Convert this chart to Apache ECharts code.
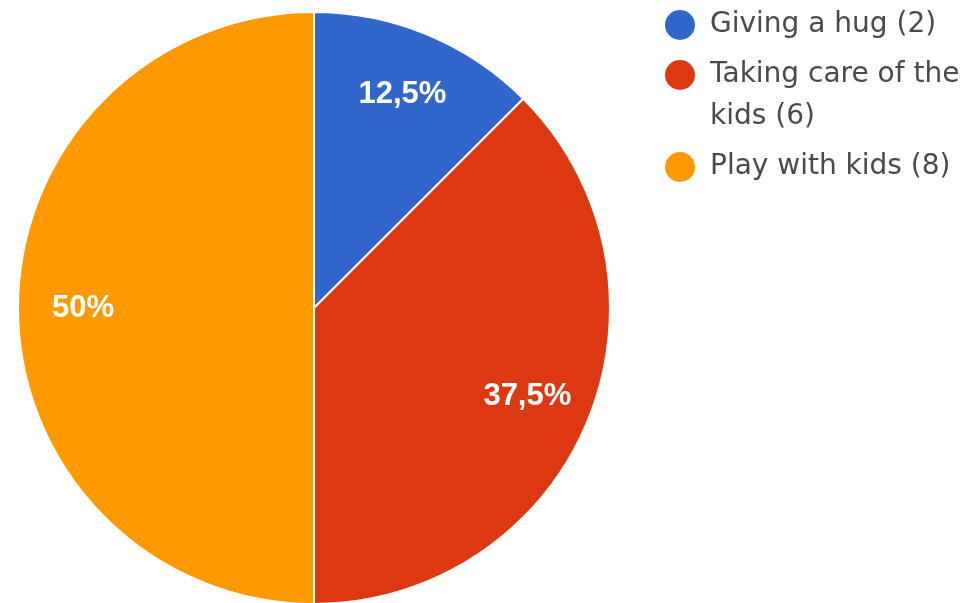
<!DOCTYPE html>
<html>
<head>
<meta charset="utf-8">
<script src="https://cdn.jsdelivr.net/npm/echarts@6/dist/echarts.min.js"></script>
<style>
  html, body { margin: 0; padding: 0; background: #fff; }
  #chart { width: 973px; height: 603px; }
</style>
</head>
<body>
<div id="chart"></div>
<script>
// Answers and their counts
const categories = ['Giving a hug', 'Taking care of the kids', 'Play with kids'];
const counts = [2, 6, 8];
const colors = ['#3366cc', '#dc3912', '#ff9900'];

const total = counts.reduce((a, b) => a + b, 0);

// Percent with a decimal comma, e.g. 12,5%
function pctLabel(v) {
  const p = Math.round(v / total * 1000) / 10;
  return String(p).replace('.', ',') + '%';
}

const pieCenter = [314, 308];
const pieRadius = 296;

const pieData = categories.map((name, i) => ({
  name: name,
  value: counts[i],
  itemStyle: { color: colors[i] }
}));

// Legend: colored dot + wrapped caption per answer
const legendFont = '28px "DejaVu Sans"';
const legendLineH = 42;
const legendWidth = 258;
const measureCtx = document.createElement('canvas').getContext('2d');
measureCtx.font = legendFont;
function wrapWords(text) {
  const words = text.split(' ');
  const lines = [];
  let cur = '';
  words.forEach(w => {
    const t = cur ? cur + ' ' + w : w;
    if (cur && measureCtx.measureText(t).width > legendWidth) {
      lines.push(cur);
      cur = w;
    } else {
      cur = t;
    }
  });
  if (cur) lines.push(cur);
  return lines;
}

const legendElements = [];
let firstLineY = 25;
categories.forEach((name, i) => {
  const lines = wrapWords(name + ' (' + counts[i] + ')');
  legendElements.push({
    type: 'circle',
    shape: { cx: 680, cy: firstLineY, r: 15 },
    style: { fill: colors[i] },
    silent: true
  });
  legendElements.push({
    type: 'text',
    x: 710,
    y: firstLineY - legendLineH / 2,
    style: {
      text: lines.join('\n'),
      font: legendFont,
      fill: '#4a4a4a',
      lineHeight: legendLineH,
      verticalAlign: 'top',
      align: 'left'
    },
    silent: true
  });
  firstLineY += lines.length * legendLineH + 8;
});

const chart = echarts.init(document.getElementById('chart'), null, { renderer: 'canvas' });
chart.setOption({
  animation: false,
  graphic: legendElements,
  series: [
    {
      type: 'pie',
      center: pieCenter,
      radius: pieRadius,
      startAngle: 90,
      clockwise: true,
      silent: true,
      label: { show: false },
      labelLine: { show: false },
      itemStyle: { borderColor: '#fff', borderWidth: 2 },
      data: pieData
    },
    {
      // Transparent ring used only to place the percent labels further out
      type: 'pie',
      center: pieCenter,
      radius: pieRadius * 1.54,
      startAngle: 90,
      clockwise: true,
      silent: true,
      z: 3,
      itemStyle: { color: 'rgba(0,0,0,0)', borderWidth: 0 },
      labelLine: { show: false },
      label: {
        show: true,
        position: 'inside',
        formatter: p => pctLabel(p.value),
        color: '#fff',
        fontFamily: '"Liberation Sans", Arial, sans-serif',
        fontWeight: 'bold',
        fontSize: 31
      },
      data: categories.map((name, i) => ({ name: name, value: counts[i] }))
    }
  ]
});
</script>
</body>
</html>
